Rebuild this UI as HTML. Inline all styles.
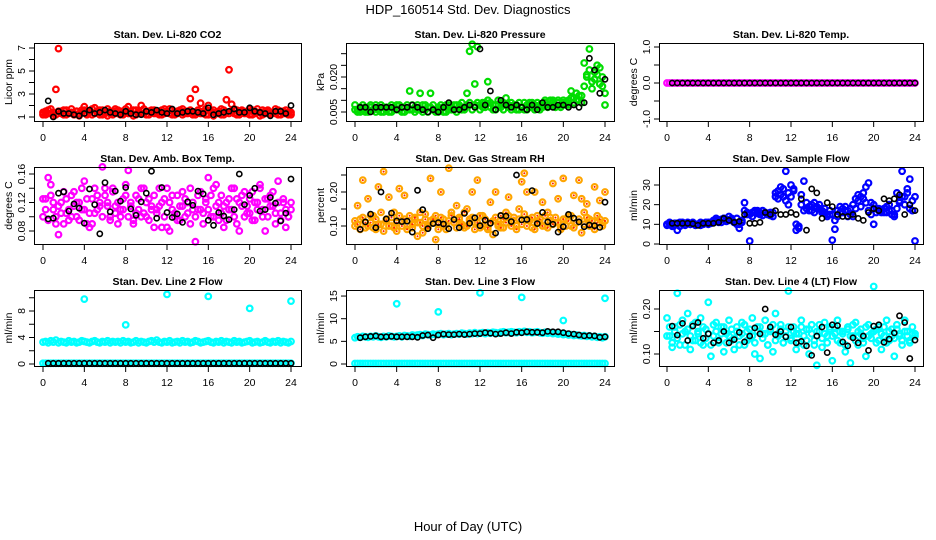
<!DOCTYPE html>
<html><head><meta charset="utf-8">
<style>
html,body{margin:0;padding:0;background:#fff;}
svg{display:block;font-family:"Liberation Sans",Arial,sans-serif;}
</style></head>
<body>
<svg id="chart" width="936" height="540" viewBox="0 0 936 540">
<text x="468" y="14" text-anchor="middle" font-size="13">HDP_160514  Std. Dev. Diagnostics</text>
<text x="468" y="531" text-anchor="middle" font-size="13">Hour of Day (UTC)</text>
</svg>
<script>
// shared time axes (hours)
const HQ = [0,0.25,0.5,0.75,1,1.25,1.5,1.75,2,2.25,2.5,2.75,3,3.25,3.5,3.75,4,4.25,4.5,4.75,5,5.25,5.5,5.75,6,6.25,6.5,6.75,7,7.25,7.5,7.75,8,8.25,8.5,8.75,9,9.25,9.5,9.75,10,10.25,10.5,10.75,11,11.25,11.5,11.75,12,12.25,12.5,12.75,13,13.25,13.5,13.75,14,14.25,14.5,14.75,15,15.25,15.5,15.75,16,16.25,16.5,16.75,17,17.25,17.5,17.75,18,18.25,18.5,18.75,19,19.25,19.5,19.75,20,20.25,20.5,20.75,21,21.25,21.5,21.75,22,22.25,22.5,22.75,23,23.25,23.5,23.75,24];
const HH = [0.5,1,1.5,2,2.5,3,3.5,4,4.5,5,5.5,6,6.5,7,7.5,8,8.5,9,9.5,10,10.5,11,11.5,12,12.5,13,13.5,14,14.5,15,15.5,16,16.5,17,17.5,18,18.5,19,19.5,20,20.5,21,21.5,22,22.5,23,23.5,24];
const HO = [4,8,12,16,20,24];
const xTicks = [0,4,8,12,16,20,24];

// Panel 1: CO2
const co2Red = [1.4,1.2,1.6,1.3,1.1,3.4,6.95,1.5,1.2,1.6,1.3,1.4,1.2,1.5,1.3,1.6,1.9,1.3,1.5,1.2,1.8,1.4,1.2,1.6,1.3,1.1,1.5,1.4,1.7,1.3,1.5,1.2,1.4,1.9,1.3,1.1,1.6,1.4,2.0,1.3,1.5,1.2,1.4,1.6,1.3,1.5,1.2,1.7,1.4,1.3,1.6,1.2,1.5,1.4,1.7,1.3,1.5,2.6,1.2,3.4,1.4,2.2,1.3,1.2,2.0,1.5,1.1,1.4,1.3,1.7,1.2,2.5,5.1,2.1,1.3,1.6,1.2,1.5,1.4,1.3,1.7,1.2,1.5,1.4,1.1,1.6,1.3,1.5,1.2,1.4,1.3,1.6,1.2,1.5,1.3,1.4,1.2];
const co2Red2 = [1.2,1.5,1.3,1.7,1.4,1.2,1.5,1.3,1.6,1.2,1.4,1.7,1.3,1.5,1.1,1.4,1.6,1.2,1.4,1.7,1.3,1.5,1.6,1.2,1.4,1.7,1.3,1.2,1.5,1.6,1.2,1.4,1.7,1.3,1.5,1.6,1.2,1.4,1.3,1.7,1.2,1.5,1.6,1.3,1.4,1.2,1.6,1.3,1.5,1.7,1.2,1.4,1.3,1.6,1.2,1.5,1.3,1.6,1.4,1.2,1.6,1.3,1.5,1.7,1.2,1.4,1.6,1.3,1.5,1.2,1.6,1.4,1.3,1.5,1.7,1.2,1.4,1.6,1.3,1.5,1.2,1.6,1.3,1.7,1.4,1.2,1.5,1.6,1.3,1.4,1.7,1.2,1.5,1.3,1.6,1.2,1.4];
const co2Black = [2.4,1.0,1.5,1.3,1.3,1.2,1.1,1.3,1.6,1.3,1.4,1.6,1.4,1.3,1.2,1.5,1.3,1.2,1.2,1.5,1.4,1.6,1.4,1.3,1.7,1.3,1.4,1.5,1.5,1.4,1.3,1.8,1.2,1.3,1.4,1.5,1.7,1.4,1.4,1.8,1.5,1.4,1.3,1.1,1.5,1.5,1.3,2.0];
// Panel 2: Pressure
const presGreen = [0.006,0.005,0.007,0.006,0.005,0.006,0.007,0.006,0.008,0.006,0.005,0.007,0.006,0.007,0.005,0.006,0.008,0.006,0.005,0.007,0.006,0.014,0.006,0.007,0.006,0.013,0.008,0.006,0.007,0.013,0.006,0.005,0.007,0.006,0.005,0.008,0.006,0.007,0.006,0.008,0.007,0.006,0.007,0.013,0.031,0.034,0.017,0.033,0.008,0.007,0.009,0.018,0.007,0.008,0.006,0.008,0.007,0.009,0.011,0.008,0.006,0.007,0.008,0.006,0.007,0.006,0.008,0.009,0.007,0.008,0.007,0.008,0.007,0.009,0.008,0.010,0.009,0.008,0.009,0.008,0.009,0.008,0.010,0.014,0.011,0.013,0.010,0.012,0.026,0.021,0.032,0.018,0.022,0.025,0.017,0.020,0.008];
const presGreen2 = [0.008,0.006,0.005,0.008,0.007,0.005,0.008,0.006,0.005,0.007,0.008,0.005,0.007,0.005,0.008,0.007,0.006,0.008,0.007,0.005,0.008,0.006,0.008,0.005,0.008,0.006,0.005,0.008,0.005,0.007,0.008,0.006,0.005,0.008,0.007,0.005,0.008,0.006,0.008,0.005,0.008,0.009,0.006,0.008,0.009,0.006,0.008,0.009,0.006,0.009,0.007,0.010,0.009,0.006,0.008,0.010,0.009,0.006,0.008,0.007,0.009,0.008,0.006,0.009,0.007,0.009,0.006,0.007,0.009,0.006,0.009,0.006,0.008,0.010,0.007,0.008,0.010,0.007,0.010,0.007,0.010,0.009,0.008,0.011,0.009,0.010,0.012,0.009,0.016,0.020,0.023,0.015,0.019,0.021,0.024,0.016,0.013];
const presBlack = [0.007,0.007,0.005,0.007,0.007,0.007,0.007,0.006,0.007,0.007,0.008,0.007,0.006,0.005,0.006,0.005,0.007,0.009,0.006,0.006,0.007,0.008,0.007,0.032,0.008,0.014,0.006,0.010,0.008,0.007,0.008,0.007,0.006,0.008,0.006,0.009,0.007,0.007,0.008,0.008,0.007,0.008,0.007,0.009,0.028,0.023,0.013,0.019];
// Panel 3: Temp
const tempMag = [0,0,0,0,0,0,0,0,0,0,0,0,0,0,0,0,0,0,0,0,0,0,0,0,0,0,0,0,0,0,0,0,0,0,0,0,0,0,0,0,0,0,0,0,0,0,0,0,0,0,0,0,0,0,0,0,0,0,0,0,0,0,0,0,0,0,0,0,0,0,0,0,0,0,0,0,0,0,0,0,0,0,0,0,0,0,0,0,0,0,0,0,0,0,0,0,0];
const tempBlack = [0,0,0,0,0,0,0,0,0,0,0,0,0,0,0,0,0,0,0,0,0,0,0,0,0,0,0,0,0,0,0,0,0,0,0,0,0,0,0,0,0,0,0,0,0,0,0,0];
// Panel 4: Amb box temp
const boxMagA = [0.100,0.125,0.155,0.145,0.110,0.090,0.075,0.120,0.135,0.105,0.095,0.130,0.115,0.100,0.120,0.140,0.110,0.090,0.085,0.125,0.105,0.130,0.115,0.170,0.140,0.120,0.100,0.135,0.115,0.090,0.110,0.125,0.145,0.100,0.120,0.095,0.130,0.110,0.140,0.105,0.100,0.125,0.115,0.085,0.110,0.140,0.120,0.100,0.085,0.080,0.130,0.105,0.095,0.115,0.135,0.100,0.120,0.090,0.110,0.065,0.130,0.110,0.105,0.125,0.155,0.100,0.140,0.115,0.095,0.130,0.085,0.120,0.110,0.140,0.100,0.125,0.080,0.115,0.135,0.105,0.125,0.095,0.120,0.110,0.140,0.100,0.080,0.125,0.115,0.135,0.105,0.150,0.095,0.120,0.110,0.100,0.120];
const boxMagB = [0.125,0.110,0.095,0.130,0.120,0.100,0.115,0.105,0.090,0.125,0.110,0.100,0.135,0.120,0.095,0.110,0.150,0.125,0.105,0.090,0.140,0.110,0.120,0.100,0.130,0.115,0.095,0.140,0.105,0.120,0.100,0.110,0.130,0.165,0.115,0.090,0.105,0.125,0.100,0.140,0.120,0.095,0.110,0.130,0.105,0.115,0.085,0.125,0.140,0.120,0.110,0.100,0.130,0.095,0.115,0.125,0.105,0.140,0.120,0.100,0.110,0.135,0.090,0.120,0.110,0.130,0.100,0.145,0.120,0.105,0.115,0.095,0.125,0.110,0.140,0.090,0.120,0.130,0.100,0.115,0.105,0.135,0.095,0.120,0.145,0.110,0.125,0.100,0.130,0.115,0.090,0.120,0.105,0.125,0.085,0.100,0.110];
const boxBlack = [0.097,0.098,0.133,0.135,0.108,0.118,0.112,0.091,0.139,0.117,0.076,0.148,0.107,0.136,0.122,0.141,0.111,0.102,0.121,0.133,0.164,0.098,0.141,0.106,0.099,0.104,0.092,0.121,0.116,0.136,0.132,0.095,0.088,0.106,0.101,0.096,0.110,0.160,0.117,0.130,0.140,0.108,0.110,0.127,0.119,0.094,0.105,0.153];
// Panel 5: Gas stream RH
const rhA = [0.100,0.160,0.120,0.235,0.095,0.180,0.110,0.130,0.090,0.215,0.105,0.260,0.120,0.185,0.100,0.140,0.085,0.210,0.115,0.190,0.100,0.130,0.095,0.120,0.110,0.140,0.080,0.120,0.100,0.240,0.110,0.130,0.090,0.200,0.120,0.105,0.270,0.140,0.110,0.160,0.125,0.100,0.095,0.150,0.120,0.200,0.110,0.235,0.095,0.130,0.105,0.090,0.170,0.115,0.200,0.100,0.130,0.095,0.140,0.185,0.110,0.125,0.100,0.150,0.230,0.255,0.200,0.120,0.095,0.200,0.130,0.110,0.170,0.100,0.140,0.125,0.225,0.110,0.180,0.095,0.240,0.120,0.130,0.100,0.190,0.110,0.235,0.180,0.140,0.165,0.120,0.100,0.215,0.130,0.175,0.110,0.200];
const rhB = [0.115,0.105,0.090,0.125,0.110,0.100,0.130,0.095,0.120,0.105,0.140,0.085,0.115,0.100,0.125,0.095,0.110,0.130,0.100,0.120,0.090,0.115,0.105,0.125,0.070,0.110,0.100,0.135,0.095,0.115,0.120,0.060,0.105,0.125,0.100,0.090,0.115,0.130,0.110,0.095,0.120,0.105,0.140,0.100,0.115,0.125,0.090,0.110,0.130,0.100,0.120,0.095,0.110,0.075,0.125,0.105,0.095,0.120,0.110,0.130,0.100,0.115,0.090,0.120,0.105,0.135,0.100,0.115,0.125,0.090,0.110,0.120,0.100,0.130,0.095,0.115,0.105,0.125,0.110,0.090,0.120,0.100,0.115,0.130,0.095,0.110,0.120,0.080,0.105,0.125,0.100,0.115,0.090,0.110,0.120,0.100,0.115];
const rhBlack = [0.090,0.112,0.135,0.095,0.200,0.121,0.138,0.115,0.113,0.114,0.082,0.205,0.148,0.092,0.107,0.110,0.106,0.092,0.119,0.095,0.137,0.108,0.124,0.101,0.117,0.108,0.079,0.131,0.129,0.113,0.250,0.118,0.119,0.204,0.107,0.140,0.112,0.105,0.082,0.098,0.134,0.123,0.112,0.098,0.103,0.101,0.096,0.170];
// Panel 6: Sample flow
const flowBlueA = [9.5,10,9,10.5,7,11,10,9.5,10.5,10,11,10,10,9.5,10.5,11,10,11,11.5,12,11,12.5,13,11.5,14,12,11,13,8,12,21,15,1.5,16,17,15.5,16,14.5,16,15,14.5,16,26,23,29,24,37,26,30,27,7,9,25,32,18,17,20,16,19,18,17,16,15,17,2,7.5,14,16,18,19,17,15,14,18,22,24,26,29,31,21,10,16,18,17,16,19,17,15,14,26,21,37,20,28,33,17,1.5];
const flowBlueB = [10,11,9.5,10,10.5,9,11,10,11,10,10.5,9.5,10,11,10,10.5,11,10.5,12,13,12,11,13,12.5,12,13,11,10,10,11,17,16,15,14,16,17,15,17,16,15,16,14,24,27,25,28,22,20,24,28,10,8,20,17,21,19,17,21,18,20,16,18,14,15,15,12,17,19,16,17,14,18,20,23,25,19,23,21,17,15,20,18,17,16,18,16,20,17,15,18,22,24,24,26,18,22,24];
const flowBlack = [10.5,10.5,10.5,10.5,10.3,9.5,10.5,10.5,10.5,11,13,12,11,11.5,15,10.5,10.5,11,16,15,17,15,15,16,15,23,7,28,26,13,21,19,15,14,14,15,13,12,16,18,17,23,22,23,25,15,20,17];
// Panel 7: Line 2 flow
const l2Band = [3.3,3.4,3.2,3.5,3.3,3.6,3.2,3.4,3.3,3.2,3.5,3.3,3.4,3.2,3.3,3.5,3.4,3.3,3.2,3.4,3.5,3.3,3.2,3.4,3.3,3.5,3.2,3.4,3.3,3.4,3.2,3.5,3.3,3.4,3.2,3.3,3.5,3.2,3.4,3.3,3.2,3.4,3.5,3.3,3.6,3.3,3.2,3.4,3.3,3.5,3.2,3.3,3.4,3.2,3.5,3.3,3.4,3.2,3.3,3.5,3.4,3.2,3.3,3.4,3.5,3.3,3.2,3.4,3.3,3.5,3.2,3.4,3.3,3.2,3.5,3.3,3.4,3.2,3.3,3.4,3.5,3.2,3.3,3.4,3.2,3.3,3.5,3.3,3.2,3.4,3.3,3.5,3.2,3.4,3.3,3.2,3.4];
const l2Zero = [0.1,0.1,0.1,0.1,0.1,0.1,0.1,0.1,0.1,0.1,0.1,0.1,0.1,0.1,0.1,0.1,0.1,0.1,0.1,0.1,0.1,0.1,0.1,0.1,0.1,0.1,0.1,0.1,0.1,0.1,0.1,0.1,0.1,0.1,0.1,0.1,0.1,0.1,0.1,0.1,0.1,0.1,0.1,0.1,0.1,0.1,0.1,0.1,0.1,0.1,0.1,0.1,0.1,0.1,0.1,0.1,0.1,0.1,0.1,0.1,0.1,0.1,0.1,0.1,0.1,0.1,0.1,0.1,0.1,0.1,0.1,0.1,0.1,0.1,0.1,0.1,0.1,0.1,0.1,0.1,0.1,0.1,0.1,0.1,0.1,0.1,0.1,0.1,0.1,0.1,0.1,0.1,0.1,0.1,0.1,0.1,0.1];
const l2Out = [9.8,5.9,10.5,10.2,8.4,9.5];
const l2Black = [0.1,0.1,0.1,0.1,0.1,0.1,0.1,0.1,0.1,0.1,0.1,0.1,0.1,0.1,0.1,0.1,0.1,0.1,0.1,0.1,0.1,0.1,0.1,0.1,0.1,0.1,0.1,0.1,0.1,0.1,0.1,0.1,0.1,0.1,0.1,0.1,0.1,0.1,0.1,0.1,0.1,0.1,0.1,0.1,0.1,0.1,0.1,0.1];
// Panel 8: Line 3 flow
const l3Band = [5.8,6.0,5.9,6.1,6.0,5.9,6.1,6.0,6.2,6.0,5.9,6.1,6.0,6.2,6.1,6.0,6.1,6.2,6.0,6.3,6.2,6.1,6.4,6.3,6.4,6.5,6.3,6.6,6.5,6.4,6.6,6.5,6.6,6.7,6.5,6.6,6.7,6.5,6.6,6.7,6.6,6.8,6.7,6.6,6.8,6.7,6.9,6.7,6.8,6.9,6.7,6.9,6.8,7.0,6.9,6.8,7.0,7.1,6.9,7.0,7.1,7.0,6.9,7.1,7.0,7.2,7.0,7.1,6.9,7.0,7.1,6.9,6.8,7.0,6.8,6.9,6.7,6.8,6.6,6.7,6.5,6.6,6.4,6.5,6.3,6.4,6.3,6.2,6.3,6.1,6.2,6.0,6.1,5.9,6.0,5.8,6.0];
const l3Zero = [0.1,0.1,0.1,0.1,0.1,0.1,0.1,0.1,0.1,0.1,0.1,0.1,0.1,0.1,0.1,0.1,0.1,0.1,0.1,0.1,0.1,0.1,0.1,0.1,0.1,0.1,0.1,0.1,0.1,0.1,0.1,0.1,0.1,0.1,0.1,0.1,0.1,0.1,0.1,0.1,0.1,0.1,0.1,0.1,0.1,0.1,0.1,0.1,0.1,0.1,0.1,0.1,0.1,0.1,0.1,0.1,0.1,0.1,0.1,0.1,0.1,0.1,0.1,0.1,0.1,0.1,0.1,0.1,0.1,0.1,0.1,0.1,0.1,0.1,0.1,0.1,0.1,0.1,0.1,0.1,0.1,0.1,0.1,0.1,0.1,0.1,0.1,0.1,0.1,0.1,0.1,0.1,0.1,0.1,0.1,0.1,0.1];
const l3Out = [13.3,11.5,15.7,14.7,9.6,14.5];
const l3Black = [5.8,6.0,6.1,6.2,6.0,6.0,6.1,6.0,6.0,6.0,6.0,5.9,6.3,6.4,5.8,6.4,6.6,6.5,6.5,6.6,6.5,6.6,6.7,6.7,6.9,6.8,6.6,6.7,6.9,6.7,7.0,6.9,7.1,7.0,7.0,6.9,7.2,7.1,7.1,6.9,6.7,6.6,6.4,6.2,6.3,6.2,5.9,6.0];
// Panel 9: Line 4 (LT) flow
const l4A = [0.180,0.140,0.115,0.160,0.235,0.120,0.175,0.150,0.190,0.110,0.165,0.130,0.145,0.180,0.120,0.155,0.215,0.095,0.140,0.170,0.125,0.160,0.105,0.145,0.175,0.130,0.110,0.160,0.140,0.170,0.120,0.150,0.135,0.180,0.100,0.160,0.090,0.145,0.175,0.120,0.155,0.105,0.190,0.140,0.165,0.125,0.150,0.240,0.130,0.160,0.110,0.145,0.175,0.120,0.155,0.100,0.165,0.130,0.075,0.150,0.115,0.170,0.140,0.160,0.085,0.145,0.175,0.125,0.150,0.105,0.160,0.080,0.140,0.170,0.120,0.155,0.135,0.095,0.165,0.145,0.250,0.125,0.160,0.110,0.140,0.175,0.130,0.155,0.095,0.165,0.140,0.120,0.175,0.150,0.130,0.160,0.145];
const l4B = [0.140,0.160,0.125,0.150,0.135,0.165,0.145,0.120,0.155,0.140,0.130,0.170,0.150,0.125,0.160,0.135,0.145,0.120,0.165,0.150,0.130,0.145,0.160,0.125,0.140,0.155,0.135,0.150,0.120,0.145,0.165,0.130,0.155,0.140,0.125,0.150,0.160,0.135,0.145,0.120,0.150,0.165,0.130,0.145,0.155,0.125,0.140,0.160,0.135,0.150,0.145,0.125,0.160,0.140,0.130,0.155,0.145,0.120,0.150,0.165,0.135,0.145,0.125,0.155,0.140,0.160,0.130,0.150,0.145,0.120,0.155,0.140,0.165,0.130,0.150,0.145,0.125,0.160,0.140,0.135,0.150,0.155,0.130,0.145,0.160,0.125,0.150,0.140,0.135,0.155,0.145,0.130,0.150,0.140,0.125,0.145,0.140];
const l4Black = [0.162,0.142,0.168,0.130,0.162,0.170,0.135,0.145,0.125,0.130,0.150,0.125,0.132,0.148,0.127,0.140,0.158,0.145,0.200,0.160,0.143,0.150,0.138,0.160,0.125,0.128,0.118,0.097,0.140,0.160,0.103,0.165,0.163,0.127,0.118,0.136,0.125,0.140,0.108,0.162,0.165,0.126,0.133,0.147,0.185,0.170,0.090,0.131];

const cols = [{l:34,r:301,x0:43,x24:291},{l:346,r:614,x0:355,x24:605},{l:659,r:923,x0:667,x24:915}];
const rows = [{t:43,b:121},{t:167,b:244},{t:290,b:366}];
const panels = [
 {name:'co2',title:'Stan. Dev. Li-820 CO2',ylab:'Licor ppm',c:0,r:0,refV:1,refY:117,ppu:11.5,ticks:[1,2,3,4,5,6,7],labels:[[1,'1'],[3,'3'],[5,'5'],[7,'7']],
  series:[[HQ,co2Red,'#ff0000'],[HQ,co2Red2,'#ff0000'],[HH,co2Black,'#000']]},
 {name:'pressure',title:'Stan. Dev. Li-820 Pressure',ylab:'kPa',c:1,r:0,refV:0.005,refY:112,ppu:2333,ticks:[0.005,0.01,0.015,0.02,0.025,0.03],labels:[[0.005,'0.005'],[0.02,'0.020']],
  series:[[HQ,presGreen,'#00dd00'],[HQ,presGreen2,'#00dd00'],[HH,presBlack,'#000']]},
 {name:'li820-temp',title:'Stan. Dev. Li-820 Temp.',ylab:'degrees C',c:2,r:0,refV:0,refY:83,ppu:36,ticks:[-1,-0.5,0,0.5,1],labels:[[-1,'-1.0'],[0,'0.0'],[1,'1.0']],
  series:[[HQ,tempMag,'#ff00ff'],[HH,tempBlack,'#000']]},
 {name:'box-temp',title:'Stan. Dev. Amb. Box Temp.',ylab:'degrees C',c:0,r:1,refV:0.16,refY:174,ppu:712.5,ticks:[0.08,0.1,0.12,0.14,0.16],labels:[[0.08,'0.08'],[0.12,'0.12'],[0.16,'0.16']],
  series:[[HQ,boxMagA,'#ff00ff'],[HQ,boxMagB,'#ff00ff'],[HH,boxBlack,'#000']]},
 {name:'rh',title:'Stan. Dev. Gas Stream RH',ylab:'percent',c:1,r:1,refV:0.2,refY:192,ppu:340,ticks:[0.1,0.15,0.2,0.25],labels:[[0.1,'0.10'],[0.2,'0.20']],
  series:[[HQ,rhA,'#ffa500','#ff2000'],[HQ,rhB,'#ffa500','#ff2000'],[HH,rhBlack,'#000']]},
 {name:'sample-flow',title:'Stan. Dev. Sample Flow',ylab:'ml/min',c:2,r:1,refV:0,refY:244,ppu:1.967,ticks:[0,10,20,30],labels:[[0,'0'],[10,'10'],[20,'20'],[30,'30']],
  series:[[HQ,flowBlueA,'#0000ff'],[HQ,flowBlueB,'#0000ff'],[HH,flowBlack,'#000']]},
 {name:'line2-flow',title:'Stan. Dev. Line 2 Flow',ylab:'ml/min',c:0,r:2,refV:0,refY:364,ppu:6.625,ticks:[0,2,4,6,8,10],labels:[[0,'0'],[4,'4'],[8,'8']],
  series:[[HQ,l2Band,'#00ffff'],[HQ,l2Zero,'#00ffff'],[HO,l2Out,'#00ffff'],[HH,l2Black,'#000']]},
 {name:'line3-flow',title:'Stan. Dev. Line 3 Flow',ylab:'ml/min',c:1,r:2,refV:0,refY:364,ppu:4.53,ticks:[0,5,10,15],labels:[[0,'0'],[5,'5'],[10,'10'],[15,'15']],
  series:[[HQ,l3Band,'#00ffff'],[HQ,l3Zero,'#00ffff'],[HO,l3Out,'#00ffff'],[HH,l3Black,'#000']]},
 {name:'line4-flow',title:'Stan. Dev. Line 4 (LT) Flow',ylab:'ml/min',c:2,r:2,refV:0.2,refY:309,ppu:450,ticks:[0.1,0.15,0.2],labels:[[0.1,'0.10'],[0.2,'0.20']],
  series:[[HQ,l4A,'#00ffff'],[HQ,l4B,'#00ffff'],[HH,l4Black,'#000']]}
];

const NS='http://www.w3.org/2000/svg';
const svg=document.getElementById('chart');
function mk(tag,attrs,parent){const e=document.createElementNS(NS,tag);for(const k in attrs)e.setAttribute(k,attrs[k]);(parent||svg).appendChild(e);return e;}

panels.forEach(p=>{
  const C=cols[p.c],R=rows[p.r];
  const g=mk('g',{});
  
  
  const xs=h=>C.x0+(C.x24-C.x0)*h/24;
  const ys=v=>p.refY-(v-p.refV)*p.ppu;
  const pg=mk('g',{},g);
  
  
  p.series.forEach(s=>{
    const [hx,vals,col,inner]=s;
    const isBlack = col==='#000';
    const n=Math.min(hx.length,vals.length);
    for(let i=0;i<n;i++){
      const cx=xs(hx[i]),cy=ys(vals[i]);
      const c=mk('circle',{cx:cx.toFixed(1),cy:cy.toFixed(1),r:isBlack?2.6:2.8,fill:'none',stroke:col,'stroke-width':isBlack?1.6:2.2},pg);
      
      
      if(inner){mk('circle',{cx:cx.toFixed(1),cy:cy.toFixed(1),r:1,fill:inner},pg);}
    }
  });
  const b=mk('rect',{x:C.l+0.5,y:R.t+0.5,width:C.r-C.l,height:R.b-R.t,fill:'none',stroke:'#000','stroke-width':1},g);
  
  
  const t=mk('text',{x:(C.l+C.r)/2,y:R.t-5,'text-anchor':'middle','font-size':10.5,'font-weight':'bold'},g);
  t.textContent=p.title;
  
  
  xTicks.forEach(h=>{
    const x=xs(h);
    mk('line',{x1:x,x2:x,y1:R.b+1,y2:R.b+6,stroke:'#000','stroke-width':1},g);
    const tl=mk('text',{x:x,y:R.b+20,'text-anchor':'middle','font-size':10.5},g);
    tl.textContent=h;
    
    
  });
  p.ticks.forEach(v=>{
    const y=ys(v);
    mk('line',{x1:C.l-5,x2:C.l,y1:y,y2:y,stroke:'#000','stroke-width':1},g);
  });
  p.labels.forEach(([v,s])=>{
    const y=ys(v);
    const tl=mk('text',{x:0,y:0,'text-anchor':'middle','font-size':10.5,transform:`translate(${C.l-9},${y}) rotate(-90)`},g);
    tl.textContent=s;
    
    
  });
  const yl=mk('text',{x:0,y:0,'text-anchor':'middle','font-size':10.5,transform:`translate(${C.l-22},${(R.t+R.b)/2}) rotate(-90)`},g);
  yl.textContent=p.ylab;
  
  
});
</script>
</body></html>
